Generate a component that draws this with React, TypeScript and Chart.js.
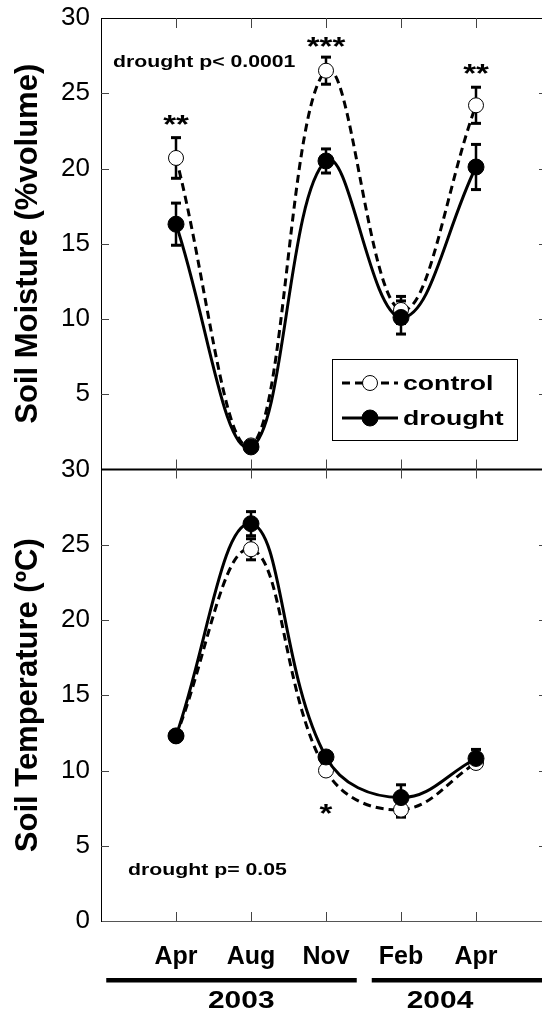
import React, { useEffect, useRef } from 'react';
import { Chart, registerables } from 'chart.js';

Chart.register(...registerables);

// ---------- data ----------
const months = ['Apr', 'Aug', 'Nov', 'Feb', 'Apr'];
const years = ['2003', '2004'];

const moistureControl = [20.7, 1.6, 26.5, 10.6, 24.2];
const moistureControlErr = [1.35, 0.2, 0.9, 0.9, 1.2];
const moistureDrought = [16.3, 1.5, 20.5, 10.1, 20.1];
const moistureDroughtErr = [1.4, 0.2, 0.8, 1.1, 1.5];

const tempControl = [12.3, 24.7, 10.0, 7.4, 10.5];
const tempControlErr = [0.3, 0.7, 0.3, 0.5, 0.3];
const tempDrought = [12.3, 26.4, 10.9, 8.2, 10.8];
const tempDroughtErr = [0.3, 0.8, 0.3, 0.85, 0.6];

const moistureStars = ['**', '', '***', '', '**'];
const tempStars = ['', '', '*', '', ''];

const moistureNote = 'drought p< 0.0001';
const tempNote = 'drought p= 0.05';

const FONT = '"Liberation Sans", Arial, Helvetica, sans-serif';

function txt(ctx: CanvasRenderingContext2D, s: string, x: number, y: number, size: number, sx: number, align: string = 'left') {
  ctx.save();
  ctx.font = `bold ${size}px ${FONT}`;
  ctx.textBaseline = 'alphabetic';
  ctx.textAlign = 'left';
  ctx.fillStyle = '#000';
  const w = ctx.measureText(s).width * sx;
  const x0 = align === 'center' ? x - w / 2 : align === 'right' ? x - w : x;
  ctx.translate(x0, y);
  ctx.scale(sx, 1);
  ctx.fillText(s, 0, 0);
  ctx.restore();
}

const toPts = (arr: number[]) => arr.map((v, i) => ({ x: i, y: v }));

const errorSets = [
  { axis: 'yM', vals: moistureDrought, errs: moistureDroughtErr },
  { axis: 'yM', vals: moistureControl, errs: moistureControlErr },
  { axis: 'yT', vals: tempDrought, errs: tempDroughtErr },
  { axis: 'yT', vals: tempControl, errs: tempControlErr },
];

const decor = {
  id: 'decor',
  beforeDatasetsDraw(chart: any) {
    const ctx: CanvasRenderingContext2D = chart.ctx;
    const xs = chart.scales.x;
    ctx.save();
    ctx.fillStyle = '#000';
    for (const set of errorSets) {
      const ys = chart.scales[set.axis];
      set.vals.forEach((v, i) => {
        const px = xs.getPixelForValue(i);
        const top = ys.getPixelForValue(v + set.errs[i]);
        const bot = ys.getPixelForValue(v - set.errs[i]);
        ctx.fillRect(px - 1.25, top, 2.5, bot - top);
        ctx.fillRect(px - 5, top - 1.5, 10, 3);
        ctx.fillRect(px - 5, bot - 1.5, 10, 3);
      });
    }
    ctx.restore();
  },
  afterDraw(chart: any) {
    const ctx: CanvasRenderingContext2D = chart.ctx;
    const xs = chart.scales.x;
    const yM = chart.scales.yM;
    const yT = chart.scales.yT;
    const { left, right, top, bottom } = chart.chartArea;
    const mid = yM.bottom;
    ctx.save();
    // frame lines
    ctx.strokeStyle = '#000';
    ctx.lineWidth = 1;
    ctx.beginPath();
    ctx.moveTo(left, top + 0.5);
    ctx.lineTo(right, top + 0.5);
    ctx.stroke();
    ctx.lineWidth = 2;
    ctx.beginPath();
    ctx.moveTo(left, mid);
    ctx.lineTo(right, mid);
    ctx.stroke();
    // x tick marks (inside)
    ctx.strokeStyle = '#444';
    ctx.lineWidth = 1;
    for (let i = 0; i < months.length; i++) {
      const px = Math.round(xs.getPixelForValue(i)) + 0.5;
      ctx.beginPath();
      ctx.moveTo(px, top); ctx.lineTo(px, top + 10);
      ctx.moveTo(px, mid - 10); ctx.lineTo(px, mid + 9);
      ctx.moveTo(px, bottom - 9); ctx.lineTo(px, bottom);
      ctx.stroke();
    }
    // y tick marks (inside, left and right)
    for (const ys of [yM, yT]) {
      for (const t of ys.ticks) {
        if (t.value <= ys.min || t.value >= ys.max) continue;
        const py = Math.round(ys.getPixelForValue(t.value)) + 0.5;
        ctx.beginPath();
        ctx.moveTo(left, py); ctx.lineTo(left + 8, py);
        ctx.moveTo(right - 3, py); ctx.lineTo(right, py);
        ctx.stroke();
      }
    }
    // significance stars
    const starAt = [23.1, 0, 28.3, 0, 26.5];
    moistureStars.forEach((s, i) => {
      if (!s) return;
      txt(ctx, s, xs.getPixelForValue(i), yM.getPixelForValue(starAt[i]) + 11, 26, 1.27, 'center');
    });
    const tStarAt = [0, 0, 7.3, 0, 0];
    tempStars.forEach((s, i) => {
      if (!s) return;
      txt(ctx, s, xs.getPixelForValue(i), yT.getPixelForValue(tStarAt[i]) + 11, 26, 1.27, 'center');
    });
    // notes
    txt(ctx, moistureNote, left + 12, top + 49, 17, 1.25);
    txt(ctx, tempNote, left + 27, bottom - 46, 17, 1.25);
    // legend
    ctx.strokeStyle = '#000';
    ctx.lineWidth = 1;
    ctx.strokeRect(332.5, 359.5, 185, 81);
    const legendItems = [
      { label: 'control', dash: [8, 5], fill: '#fff', r: 7.5, y: 383 },
      { label: 'drought', dash: [], fill: '#000', r: 8, y: 418 },
    ];
    for (const it of legendItems) {
      ctx.save();
      ctx.lineWidth = 3;
      ctx.setLineDash(it.dash);
      ctx.beginPath();
      ctx.moveTo(342, it.y); ctx.lineTo(398, it.y);
      ctx.stroke();
      ctx.setLineDash([]);
      ctx.beginPath();
      ctx.arc(370, it.y, it.r, 0, Math.PI * 2);
      ctx.fillStyle = it.fill;
      ctx.fill();
      ctx.lineWidth = 1;
      ctx.stroke();
      ctx.restore();
      txt(ctx, it.label, 403, it.y + 7, 21, 1.27);
    }
    // year bars
    const yearSpans = [[-0.93, 2.41], [2.61, 4.9]];
    const yearCenters = [0.87, 3.52];
    years.forEach((yr, k) => {
      const x0 = xs.getPixelForValue(yearSpans[k][0]);
      const x1 = xs.getPixelForValue(yearSpans[k][1]);
      ctx.fillStyle = '#000';
      ctx.fillRect(x0, 978, x1 - x0, 4.5);
      txt(ctx, yr, xs.getPixelForValue(yearCenters[k]), 1008, 23, 1.3, 'center');
    });
    ctx.restore();
  },
};

export default function App() {
  const ref = useRef<HTMLCanvasElement>(null);
  useEffect(() => {
    document.body.style.margin = '0';
    const canvas = ref.current!;
    const tickFont = { family: FONT, size: 26, weight: 'normal' as const };
    const titleFont = { family: FONT, size: 31, weight: 'bold' as const, lineHeight: 1 };
    const fitY = (s: any) => { s.width = 101; s.paddingTop = 0; s.paddingBottom = 0; };
    const chart = new Chart(canvas, {
      type: 'line',
      data: {
        datasets: [
          {
            label: 'drought', data: toPts(moistureDrought), yAxisID: 'yM',
            borderColor: '#000', borderWidth: 3, tension: 0.4,
            pointRadius: 8, pointBackgroundColor: '#000', pointBorderColor: '#000', pointBorderWidth: 1,
          },
          {
            label: 'control', data: toPts(moistureControl), yAxisID: 'yM',
            borderColor: '#000', borderWidth: 3, borderDash: [8, 5], tension: 0.4,
            pointRadius: 7.5, pointBackgroundColor: '#fff', pointBorderColor: '#000', pointBorderWidth: 1,
          },
          {
            label: 'drought', data: toPts(tempDrought), yAxisID: 'yT',
            borderColor: '#000', borderWidth: 3, tension: 0.4,
            pointRadius: 8, pointBackgroundColor: '#000', pointBorderColor: '#000', pointBorderWidth: 1,
          },
          {
            label: 'control', data: toPts(tempControl), yAxisID: 'yT',
            borderColor: '#000', borderWidth: 3, borderDash: [8, 5], tension: 0.4,
            pointRadius: 7.5, pointBackgroundColor: '#fff', pointBorderColor: '#000', pointBorderWidth: 1,
          },
        ],
      },
      options: {
        animation: false,
        responsive: false,
        devicePixelRatio: 1,
        layout: { autoPadding: false, padding: { top: 18, right: 0, left: 0, bottom: 0 } },
        plugins: { legend: { display: false }, tooltip: { enabled: false } },
        scales: {
          x: {
            type: 'linear', min: -1, max: 4.88,
            afterBuildTicks: (s: any) => { s.ticks = months.map((_, i) => ({ value: i })); },
            afterFit: (s: any) => { s.height = 95; s.paddingLeft = 0; s.paddingRight = 0; },
            ticks: {
              callback: (v: any) => months[v as number] ?? '',
              font: { family: FONT, size: 25, weight: 'bold' }, color: '#000', padding: 21,
              autoSkip: false, maxRotation: 0,
            },
            grid: { display: false, drawTicks: false },
            border: { display: true, color: '#555', width: 1 },
          },
          yT: {
            type: 'linear', position: 'left', stack: 'panels', stackWeight: 1, min: 0, max: 30,
            afterFit: fitY,
            ticks: { stepSize: 5, font: tickFont, color: '#000', padding: 11 },
            title: { display: true, text: 'Soil Temperature (ºC)', font: titleFont, color: '#000', padding: { top: 13, bottom: 0 } },
            grid: { display: false, drawTicks: false },
            border: { display: true, color: '#000', width: 1 },
          },
          yM: {
            type: 'linear', position: 'left', stack: 'panels', stackWeight: 1, min: 0, max: 30,
            afterFit: fitY,
            ticks: { stepSize: 5, font: tickFont, color: '#000', padding: 11, callback: (v: any) => (v === 0 ? '' : String(v)) },
            title: { display: true, text: 'Soil Moisture (%volume)', font: titleFont, color: '#000', padding: { top: 13, bottom: 0 } },
            grid: { display: false, drawTicks: false },
            border: { display: true, color: '#000', width: 1 },
          },
        },
      } as any,
      plugins: [decor],
    });
    return () => chart.destroy();
  }, []);
  return (
    <div style={{ position: 'fixed', left: 0, top: 0, width: 542, height: 1016, background: '#fff' }}>
      <canvas ref={ref} width={542} height={1016} style={{ display: 'block', width: 542, height: 1016 }} />
    </div>
  );
}
